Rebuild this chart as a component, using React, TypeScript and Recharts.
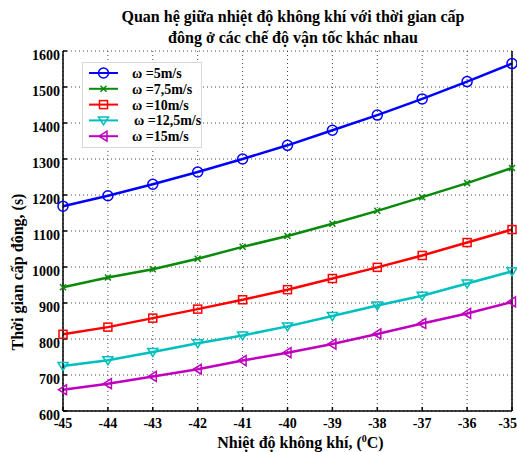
import { CartesianGrid, Label, Legend, Line, LineChart, XAxis, YAxis } from "recharts";

const temps = [-45, -44, -43, -42, -41, -40, -39, -38, -37, -36, -35];
const w5 = [1169, 1198, 1230, 1264, 1300, 1338, 1380, 1422, 1467, 1515, 1565];
const w75 = [944, 971, 994, 1023, 1056, 1086, 1120, 1156, 1194, 1233, 1275];
const w10 = [813, 833, 858, 883, 909, 937, 968, 999, 1032, 1068, 1104];
const w125 = [725, 741, 764, 788, 810, 835, 864, 893, 920, 954, 988];
const w15 = [659, 676, 696, 716, 740, 762, 786, 814, 843, 871, 903];
const yTicks = [600, 700, 800, 900, 1000, 1100, 1200, 1300, 1400, 1500, 1600];
const seriesNames = ["ω =5m/s", "ω =7,5m/s", "ω =10m/s", "ω =12,5m/s", "ω =15m/s"];

const FONT = "'Liberation Serif', 'Times New Roman', serif";

const series = [
  { key: "w5", name: seriesNames[0], color: "#0000ff", shape: "circle" },
  { key: "w75", name: seriesNames[1], color: "#0a8a0a", shape: "cross" },
  { key: "w10", name: seriesNames[2], color: "#ff0000", shape: "square" },
  { key: "w125", name: seriesNames[3], color: "#00bfbf", shape: "down" },
  { key: "w15", name: seriesNames[4], color: "#bf00bf", shape: "left" },
];

const data = temps.map((t, i) => ({
  t,
  w5: w5[i],
  w75: w75[i],
  w10: w10[i],
  w125: w125[i],
  w15: w15[i],
}));

function Marker({ shape, cx, cy, color }: { shape: string; cx: number; cy: number; color: string }) {
  const p = { fill: "none", stroke: color, strokeWidth: 1.5 };
  if (shape === "circle") return <circle cx={cx} cy={cy} r={5} {...p} />;
  if (shape === "square") return <rect x={cx - 4} y={cy - 4} width={8} height={8} {...p} />;
  if (shape === "cross")
    return <path d={`M${cx - 3},${cy - 3}L${cx + 3},${cy + 3}M${cx - 3},${cy + 3}L${cx + 3},${cy - 3}`} {...p} />;
  if (shape === "down") return <path d={`M${cx - 5},${cy - 3.5}L${cx + 5},${cy - 3.5}L${cx},${cy + 4.5}Z`} {...p} />;
  return <path d={`M${cx + 3.5},${cy - 5}L${cx + 3.5},${cy + 5}L${cx - 4.5},${cy}Z`} {...p} />;
}

function LegendBox() {
  return (
    <svg width={118} height={84} style={{ display: "block", background: "#fff", border: "1px solid #d8d8d8" }}>
      {series.map((s, i) => {
        const y = 10 + i * 15.8;
        return (
          <g key={s.key}>
            <line x1={6} x2={35} y1={y} y2={y} stroke={s.color} strokeWidth={2} />
            <Marker shape={s.shape} cx={20.5} cy={y} color={s.color} />
            <text x={i === 3 ? 51 : 49} y={y + 5} fontFamily={FONT} fontWeight="bold" fontSize={14} fill="#000">
              {s.name}
            </text>
          </g>
        );
      })}
    </svg>
  );
}

export default function App() {
  return (
    <div style={{ position: "absolute", left: 0, top: 0, width: 517, height: 452, background: "#fff" }}>
      <div
        style={{
          position: "absolute",
          left: 93,
          width: 400,
          top: 6,
          textAlign: "center",
          fontFamily: FONT,
          fontWeight: "bold",
          fontSize: 16,
          lineHeight: "21px",
          zIndex: 2,
        }}
      >
        Quan hệ giữa nhiệt độ không khí với thời gian cấp
        <br />
        đông ở các chế độ vận tốc khác nhau
      </div>
      <LineChart width={517} height={452} data={data} margin={{ top: 51, right: 4, bottom: 0, left: 0 }}>
        <CartesianGrid stroke="#444" strokeDasharray="1 3" strokeWidth={1} />
        <XAxis
          dataKey="t"
          type="number"
          domain={[-45, -35]}
          ticks={temps}
          height={41}
          stroke="#000"
          strokeWidth={1.5}
          tickSize={-4}
          tickMargin={11}
          tick={{ fill: "#000", fontFamily: FONT, fontWeight: "bold", fontSize: 14 }}
        >
          <Label
            content={({ viewBox }: any) => (
              <text
                x={viewBox.x + viewBox.width / 2 + 13}
                y={viewBox.y + 37}
                textAnchor="middle"
                fontFamily={FONT}
                fontWeight="bold"
                fontSize={16}
                fill="#000"
              >
                Nhiệt độ không khí, (
                <tspan dy={-6} fontSize={10}>
                  0
                </tspan>
                <tspan dy={6}>C)</tspan>
              </text>
            )}
          />
        </XAxis>
        <XAxis
          xAxisId="top"
          dataKey="t"
          type="number"
          orientation="top"
          domain={[-45, -35]}
          ticks={temps}
          height={0}
          stroke="#000"
          strokeWidth={1.5}
          tickSize={-4}
          tick={false}
        />
        <YAxis
          type="number"
          domain={[600, 1600]}
          ticks={yTicks}
          width={63}
          stroke="#000"
          strokeWidth={1.5}
          tickSize={-4}
          tickMargin={7}
          tick={{ fill: "#000", fontFamily: FONT, fontWeight: "bold", fontSize: 14, dy: 4 }}
        >
          <Label
            content={({ viewBox }: any) => (
              <text
                transform={`translate(${viewBox.x + 19}, ${viewBox.y + viewBox.height / 2 + 41}) rotate(-90)`}
                textAnchor="middle"
                dominantBaseline="middle"
                fontFamily={FONT}
                fontWeight="bold"
                fontSize={16}
                fill="#000"
              >
                Thời gian cấp đông, (s)
              </text>
            )}
          />
        </YAxis>
        <YAxis
          yAxisId="right"
          orientation="right"
          type="number"
          domain={[600, 1600]}
          ticks={yTicks}
          width={1}
          stroke="#000"
          strokeWidth={1.5}
          tickSize={-4}
          tick={false}
        />
        <Legend
          layout="vertical"
          align="center"
          verticalAlign="middle"
          wrapperStyle={{ position: "absolute", left: 82, top: 62, width: 120, height: 86 }}
          content={() => <LegendBox />}
        />
        {series.map((s) => (
          <Line
            key={s.key}
            dataKey={s.key}
            name={s.name}
            stroke={s.color}
            strokeWidth={2.5}
            isAnimationActive={false}
            dot={(props: any) => (
              <Marker key={`${s.key}-${props.index}`} shape={s.shape} cx={props.cx} cy={props.cy} color={s.color} />
            )}
          />
        ))}
      </LineChart>
    </div>
  );
}
